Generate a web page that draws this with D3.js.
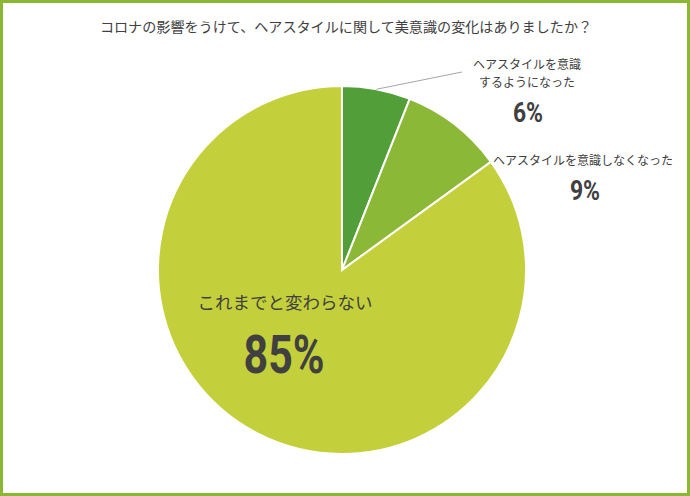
<!DOCTYPE html>
<html><head><meta charset="utf-8">
<script src="https://cdn.jsdelivr.net/npm/d3@7/dist/d3.min.js"></script>
<style>body{margin:0;background:#fff}svg{display:block}</style>
</head><body><svg id="c" width="690" height="496"></svg>
<script>
const title = "コロナの影響をうけて、ヘアスタイルに関して美意識の変化はありましたか？";
const categories = ["ヘアスタイルを意識するようになった", "ヘアスタイルを意識しなくなった", "これまでと変わらない"];
const values = [6, 9, 85];
const colors = ["#529f3a", "#8bb836", "#c3d03b"];
const valueLabels = ["6%", "9%", "85%"];

const svg = d3.select("#c");
const W = 690, H = 496;
svg.append("rect").attr("x",1.5).attr("y",1.5).attr("width",W-3).attr("height",H-3)
  .attr("fill","#fff").attr("stroke","#8ab833").attr("stroke-width",3);

svg.append("text").attr("x",346).attr("y",32).attr("text-anchor","middle")
  .attr("font-family","'Noto Sans CJK JP'").attr("font-size",14.1).attr("fill","#404040").text(title);

const cx = 342, cy = 270, R = 184;
const pie = d3.pie().sort(null).value(d=>d)(values);
const arc = d3.arc().innerRadius(0).outerRadius(R);
const g = svg.append("g").attr("transform",`translate(${cx},${cy})`);
g.selectAll("path").data(pie).join("path").attr("d",arc)
  .attr("fill",(d,i)=>colors[i]).attr("stroke","#fff").attr("stroke-width",2);

// leader line for first slice
const a0 = (pie[0].startAngle+pie[0].endAngle)/2;
const p0 = [cx + R*Math.sin(a0), cy - R*Math.cos(a0)];
svg.append("line").attr("x1",p0[0]).attr("y1",p0[1]).attr("x2",462).attr("y2",72)
  .attr("stroke","#a6a6a6").attr("stroke-width",1);

const jp = "'Noto Sans CJK JP'";
const num = "Roboto, 'Liberation Sans', sans-serif";
function txt(x,y,s,size,fam,weight,sx){
  sx = sx || 1;
  svg.append("text").attr("transform",`translate(${x},${y}) scale(${sx},1)`)
    .attr("text-anchor","middle")
    .attr("font-family",fam).attr("font-size",size).attr("font-weight",weight||"normal")
    .attr("fill","#404040").text(s);
}
txt(527,69,"ヘアスタイルを意識",12,jp);
txt(527,87,"するようになった",12,jp);
txt(528,122,valueLabels[0],27,num,"bold",0.85);
txt(583,165,categories[1],12,jp);
txt(585,200,valueLabels[1],27,num,"bold",0.85);
txt(285,309,categories[2],17.5,jp);
txt(284,373,valueLabels[2],53,num,"bold",0.81);
</script></body></html>
